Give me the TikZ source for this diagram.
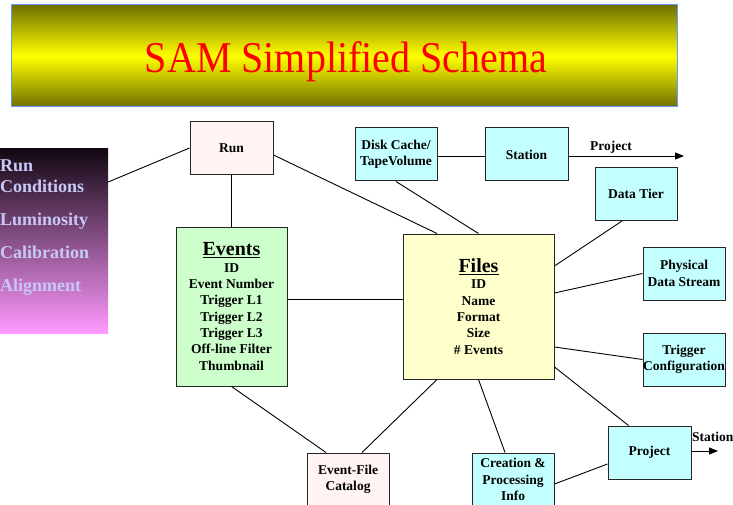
\documentclass[tikz,border=0pt]{standalone}
\usepackage{fontspec}
\usepackage{graphicx}
\setmainfont{Liberation Serif}
\usetikzlibrary{arrows.meta}
\definecolor{olivedk}{HTML}{707000}
\definecolor{ttlyel}{HTML}{FFFF00}
\definecolor{ttlblue}{HTML}{6699FF}
\definecolor{ttlred}{HTML}{FF0000}
\definecolor{lbtop}{HTML}{120812}
\definecolor{lbbot}{HTML}{FF99FF}
\definecolor{lbtext}{HTML}{C8C8F8}
\definecolor{pinkfill}{HTML}{FFF3F3}
\definecolor{greenfill}{HTML}{CCFFCC}
\definecolor{yellowfill}{HTML}{FFFFCC}
\definecolor{cyanfill}{HTML}{C4FFFF}
\tikzset{
  ent/.style={draw=black!85, line width=1pt, inner sep=0pt, align=center,
    font=\bfseries\fontsize{13.5}{16.3}\selectfont},
  smallbox/.style={ent, minimum width=82pt, minimum height=53pt},
  conn/.style={draw=black, line width=0.9pt},
  arr/.style={conn, -{Triangle[length=9pt,width=7pt]}},
  lbl/.style={inner sep=0pt, font=\bfseries\fontsize{13.5}{16}\selectfont},
}
\begin{document}
\begin{tikzpicture}[x=1pt,y=-1pt]
\useasboundingbox (0,0) rectangle (733,505);
% title
\node (title) [draw=ttlblue, line width=1pt, minimum width=666pt, minimum height=102pt,
  inner sep=0pt, top color=olivedk, bottom color=olivedk, middle color=ttlyel] at (344,56) {};
\node (titletext) [anchor=base, inner sep=0pt, text=ttlred,
  font=\fontsize{40}{44}\selectfont] at (346,73) {\scalebox{1}[1.1]{SAM Simplified Schema}};
% left gradient box
\node (lb) [minimum width=108pt, minimum height=184pt, inner sep=0pt,
  top color=lbtop, bottom color=lbbot] at (54,241) {};
\node (lbt) [anchor=north west, inner sep=0pt, align=left, text=lbtext,
  font=\bfseries\fontsize{18}{21}\selectfont] at (0,160)
  {Run\\Conditions\\[12pt]Luminosity\\[12pt]Calibration\\[12pt]Alignment};
% entities
\node (run) [smallbox, fill=pinkfill, minimum width=83pt] at (231.5,148) {Run};
\node (events) [ent, fill=greenfill, minimum width=111pt, minimum height=159pt] at (231.5,306.5)
  {{\fontsize{20}{22}\selectfont\underline{Events}}\\ID\\Event Number\\Trigger L1\\Trigger L2\\Trigger L3\\Off-line Filter\\Thumbnail};
\node (files) [ent, fill=yellowfill, minimum width=151pt, minimum height=145pt] at (478.5,306.5)
  {{\fontsize{20}{22}\selectfont\underline{Files}}\\ID\\Name\\Format\\Size\\\# Events};
\node (disk) [smallbox, fill=cyanfill] at (396,154.5) {Disk Cache/\\TapeVolume};
\node (station) [smallbox, fill=cyanfill, minimum width=83pt] at (526.5,154.5) {Station};
\node (datatier) [smallbox, fill=cyanfill] at (636,194) {Data Tier};
\node (pds) [smallbox, fill=cyanfill] at (684,273.5) {Physical\\Data Stream};
\node (trig) [smallbox, fill=cyanfill] at (684,359.5) {Trigger\\Configuration};
\node (project) [smallbox, fill=cyanfill, minimum width=83pt] at (649.5,452.5) {Project};
\node (creation) [smallbox, fill=cyanfill] at (513,479.5) {Creation \&\\Processing\\Info};
\node (efc) [smallbox, fill=pinkfill] at (348,479.5) {Event-File\\Catalog};
% free ends
\coordinate (projend) at (684,156);
\coordinate (statend) at (718,451);
\node (projlbl) [lbl, anchor=south west] at (590,154) {Project};
\node (statlbl) [lbl, anchor=west] at (692,437) {Station};
% connectors
\draw[conn] ([yshift=59pt]lb.east) -- (run.west);
\draw[conn] (run.south) -- (events.north);
\draw[conn] ([yshift=-7pt]run.east) -- ([xshift=-41.5pt]files.north);
\draw[conn] ([yshift=7.5pt]events.east) -- ([yshift=7.5pt]files.west);
\draw[conn] (disk.south) -- (files.north);
\draw[conn] ([yshift=-1.5pt]disk.east) -- ([yshift=-1.5pt]station.west);
\draw[arr] ([yshift=-1.5pt]station.east) -- (projend);
\draw[conn] ([xshift=-14pt]datatier.south) -- ([yshift=40.5pt]files.east);
\draw[conn] (pds.west) -- ([yshift=13.5pt]files.east);
\draw[conn] (trig.west) -- ([yshift=-40.5pt]files.east);
\draw[conn] ([yshift=-60.5pt]files.east) -- ([xshift=-21pt]project.north);
\draw[conn] (events.south) -- ([xshift=-22pt]efc.north);
\draw[conn] ([xshift=-41.5pt]files.south) -- ([xshift=14pt]efc.north);
\draw[conn] (files.south) -- ([xshift=-8pt]creation.north);
\draw[conn] ([yshift=-4.5pt]creation.east) -- ([yshift=-11.5pt]project.west);
\draw[arr] ([yshift=1.5pt]project.east) -- (statend);
\end{tikzpicture}
\end{document}
